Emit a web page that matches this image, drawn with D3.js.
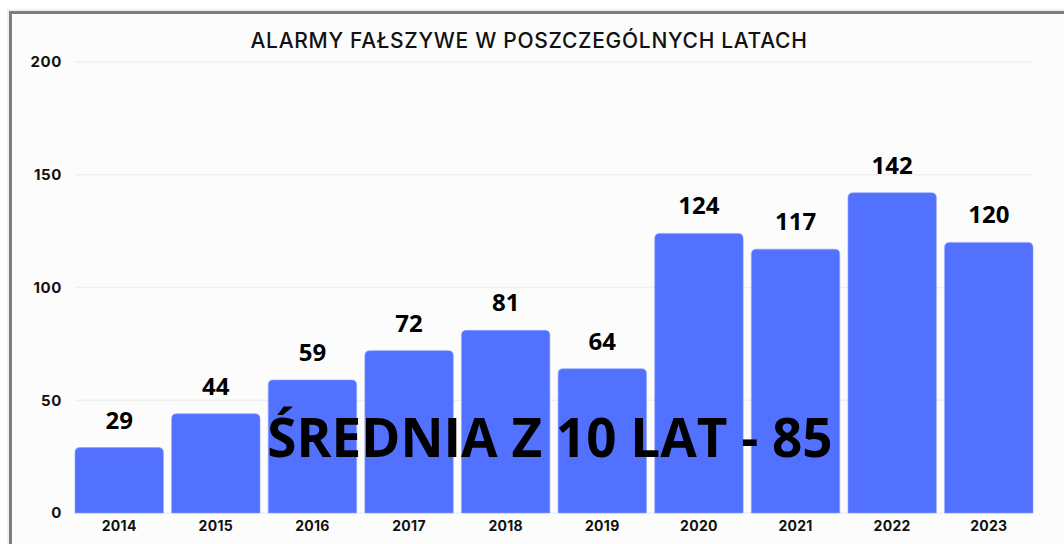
<!DOCTYPE html>
<html>
<head>
<meta charset="utf-8">
<script src="https://cdn.jsdelivr.net/npm/d3@7"></script>
<style>
  html, body { margin: 0; padding: 0; background: #ffffff; }
  svg { display: block; }
</style>
</head>
<body>
<div id="chart"></div>
<script>
// Alarmy fałszywe - bar chart

const years = ['2014', '2015', '2016', '2017', '2018', '2019', '2020', '2021', '2022', '2023'];
const alarms = [29, 44, 59, 72, 81, 64, 124, 117, 142, 120];
const yTicks = [0, 50, 100, 150, 200];
const title = 'ALARMY FAŁSZYWE W POSZCZEGÓLNYCH LATACH';
const overlayText = 'ŚREDNIA Z 10 LAT - 85';

const width = 1064;
const height = 544;
const margin = { top: 62, right: 31, bottom: 31, left: 75 };

const svg = d3.select('#chart')
  .append('svg')
  .attr('width', width)
  .attr('height', height);

// frame
svg.append('rect')
  .attr('x', 0).attr('y', 0)
  .attr('width', width).attr('height', height)
  .attr('fill', '#ffffff');

svg.append('rect')
  .attr('x', 8).attr('y', 10)
  .attr('width', width + 20).attr('height', height + 20)
  .attr('fill', '#fcfcfc')
  .attr('stroke', '#e4e2e2')
  .attr('stroke-width', 1);

svg.append('rect')
  .attr('x', 10.5).attr('y', 12.5)
  .attr('width', width + 20).attr('height', height + 20)
  .attr('fill', 'none')
  .attr('stroke', '#857c7a')
  .attr('stroke-width', 3);

const x = d3.scaleBand()
  .domain(years)
  .range([margin.left, width - margin.right])
  .paddingInner(0.085)
  .paddingOuter(0);

const y = d3.scaleLinear()
  .domain([0, 200])
  .range([height - margin.bottom, margin.top]);

// gridlines
svg.append('g')
  .selectAll('line')
  .data(yTicks)
  .join('line')
  .attr('x1', margin.left)
  .attr('x2', width - margin.right)
  .attr('y1', d => y(d))
  .attr('y2', d => y(d))
  .attr('stroke', '#efefef')
  .attr('stroke-width', 1.5);

// y axis labels
svg.append('g')
  .selectAll('text')
  .data(yTicks)
  .join('text')
  .attr('x', 62)
  .attr('y', d => y(d))
  .attr('dy', '0.36em')
  .attr('text-anchor', 'end')
  .attr('font-family', 'Inter, Lato, sans-serif')
  .attr('font-weight', 700)
  .attr('font-size', 15)
  .attr('letter-spacing', 0.6)
  .attr('fill', '#111')
  .text(d => d);

// bars with rounded top corners
const r = 5;
function barPath(d, i) {
  const x0 = x(years[i]);
  const x1 = x0 + x.bandwidth();
  const y0 = y(0);
  const y1 = y(d);
  return `M${x0},${y0} L${x0},${y1 + r} Q${x0},${y1} ${x0 + r},${y1} ` +
    `L${x1 - r},${y1} Q${x1},${y1} ${x1},${y1 + r} L${x1},${y0} Z`;
}

svg.append('g')
  .selectAll('path')
  .data(alarms)
  .join('path')
  .attr('d', (d, i) => barPath(d, i))
  .attr('fill', '#5271ff')
  .attr('stroke', '#8fa2ff')
  .attr('stroke-width', 0.6);

// value labels
svg.append('g')
  .selectAll('text')
  .data(alarms)
  .join('text')
  .attr('x', (d, i) => x(years[i]) + x.bandwidth() / 2)
  .attr('y', d => y(d) - 19)
  .attr('text-anchor', 'middle')
  .attr('font-family', '"Open Sans", "Noto Sans", sans-serif')
  .attr('font-weight', 700)
  .attr('font-size', 24)
  .attr('fill', '#000')
  .text(d => d);

// x axis labels
svg.append('g')
  .selectAll('text')
  .data(years)
  .join('text')
  .attr('x', d => x(d) + x.bandwidth() / 2)
  .attr('y', 531)
  .attr('text-anchor', 'middle')
  .attr('font-family', 'Inter, Lato, sans-serif')
  .attr('font-weight', 700)
  .attr('font-size', 14)
  .attr('letter-spacing', 0.3)
  .attr('fill', '#111')
  .text(d => d);

// title
svg.append('text')
  .attr('x', 529)
  .attr('y', 48)
  .attr('text-anchor', 'middle')
  .attr('font-family', 'Inter, Lato, sans-serif')
  .attr('font-weight', 500)
  .attr('font-size', 21)
  .attr('letter-spacing', 0.7)
  .attr('fill', '#111')
  .text(title);

// overlay average text
svg.append('text')
  .attr('x', 550)
  .attr('y', 457)
  .attr('text-anchor', 'middle')
  .attr('font-family', '"Open Sans", "Noto Sans", sans-serif')
  .attr('font-weight', 700)
  .attr('font-size', 53)
  .attr('fill', '#000')
  .text(overlayText);
</script>
</body>
</html>
